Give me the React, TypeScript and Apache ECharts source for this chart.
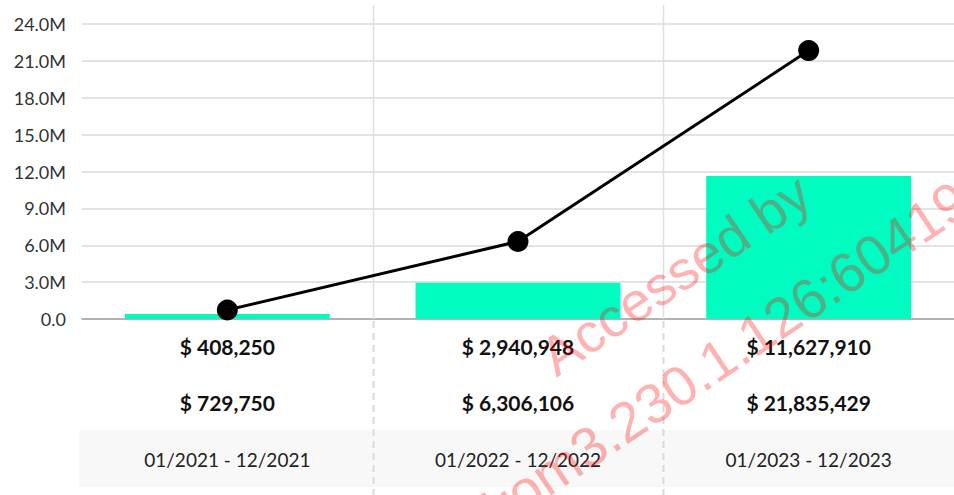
import React, { useEffect, useRef } from "react";
import * as echarts from "echarts";

const categories = ["01/2021 - 12/2021", "01/2022 - 12/2022", "01/2023 - 12/2023"];
const barValues = [408250, 2940948, 11627910];
const lineValues = [729750, 6306106, 21835429];
const yMin = 0;
const yMax = 24000000;
const yInterval = 3000000;

const W = 954;
const H = 495;
const GRID_LEFT = 82;
const GRID_TOP = 24;
const GRID_BOTTOM_Y = 319;
const PLOT_W = W - GRID_LEFT;

const fmtMoney = (v: number) => "$ " + v.toLocaleString("en-US");

export default function App() {
  const ref = useRef<HTMLDivElement>(null);
  useEffect(() => {
    if (!ref.current) return;
    const chart = echarts.init(ref.current, null, { renderer: "svg" });
    const rot = (34 * Math.PI) / 180;
    const dividers: any[] = [];
    for (let i = 1; i < categories.length; i++) {
      const x = Math.round(GRID_LEFT + (i * PLOT_W) / categories.length) + 0.5;
      dividers.push({
        type: "line",
        z: 1,
        shape: { x1: x, y1: 5, x2: x, y2: GRID_BOTTOM_Y },
        style: { stroke: "#e0e0e0", lineWidth: 1.5 },
      });
      dividers.push({
        type: "line",
        z: 1,
        shape: { x1: x, y1: GRID_BOTTOM_Y + 2, x2: x, y2: H },
        style: { stroke: "#d9d9d9", lineWidth: 2, lineDash: [7, 5] },
      });
    }
    chart.setOption({
      animation: false,
      textStyle: { fontFamily: "Lato" },
      grid: {
        left: GRID_LEFT,
        right: 0,
        top: GRID_TOP,
        bottom: H - GRID_BOTTOM_Y,
        containLabel: false,
      },
      xAxis: {
        type: "category",
        data: categories,
        boundaryGap: true,
        axisTick: { show: false },
        axisLine: { lineStyle: { color: "#a3a3a3", width: 1.5 } },
        splitLine: { show: false },
        axisLabel: {
          margin: 0,
          interval: 0,
          formatter: (val: string, idx: number) =>
            `{a|${fmtMoney(barValues[idx])}}\n{b|${fmtMoney(lineValues[idx])}}\n{c|${val}}`,
          rich: {
            a: { fontSize: 21, fontWeight: "bold", color: "#111", lineHeight: 54, fontFamily: "Lato" },
            b: { fontSize: 21, fontWeight: "bold", color: "#111", lineHeight: 58, fontFamily: "Lato" },
            c: { fontSize: 19, color: "#222", lineHeight: 56, fontFamily: "Lato" },
          },
        },
      },
      yAxis: {
        type: "value",
        min: yMin,
        max: yMax,
        interval: yInterval,
        axisLine: { show: false },
        axisTick: { show: false },
        splitLine: { lineStyle: { color: "#dadada", width: 1.5 } },
        axisLabel: {
          margin: 16,
          fontSize: 18,
          color: "#333",
          fontFamily: "Lato",
          formatter: (v: number) => (v === 0 ? "0.0" : (v / 1e6).toFixed(1) + "M"),
        },
      },
      series: [
        {
          type: "bar",
          data: barValues,
          barWidth: "70.5%",
          itemStyle: { color: "#00fcc1" },
          z: 2,
        },
        {
          type: "line",
          data: lineValues,
          symbol: "circle",
          symbolSize: 21,
          lineStyle: { color: "#000", width: 3 },
          itemStyle: { color: "#000" },
          z: 3,
        },
      ],
      graphic: [
        {
          type: "rect",
          z: -1,
          shape: { x: 79, y: 430, width: W - 79, height: 57 },
          style: { fill: "#f8f8f8" },
        },
        ...dividers,
        {
          type: "text",
          z: 100,
          x: 546,
          y: 362,
          rotation: rot,
          style: {
            text: "Accessed by",
            font: "55px 'Liberation Sans'",
            fill: "rgba(255,0,0,0.3)",
            align: "left",
            verticalAlign: "middle",
          },
        },
        {
          type: "text",
          z: 100,
          x: 483,
          y: 518,
          rotation: rot,
          style: {
            text: "from3.230.1.126:60419",
            font: "56px 'Liberation Sans'",
            fill: "rgba(255,0,0,0.3)",
            align: "left",
            verticalAlign: "middle",
          },
        },
      ],
    });
    return () => chart.dispose();
  }, []);
  return (
    <div
      ref={ref}
      style={{ position: "fixed", left: 0, top: 0, width: W, height: H, background: "#fff" }}
    />
  );
}
